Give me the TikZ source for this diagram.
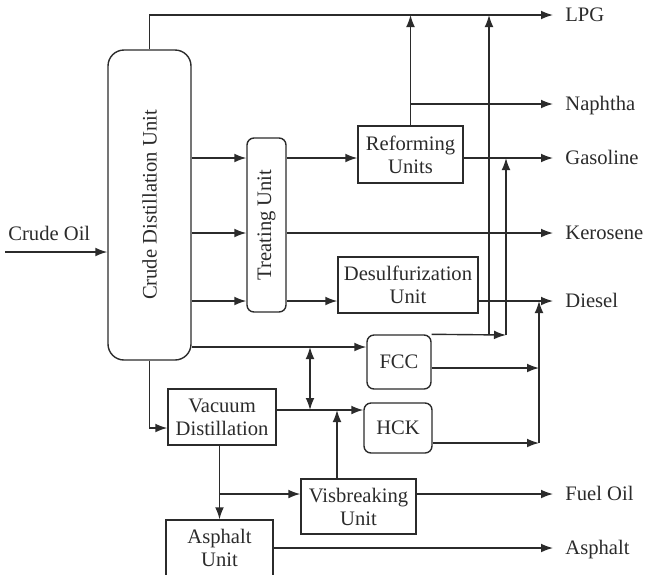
\documentclass[tikz,border=0pt]{standalone}
\usepackage{fontspec}
\setmainfont{Liberation Serif}
\usetikzlibrary{arrows.meta,calc}
\definecolor{ink}{HTML}{2B2B2B}
\begin{document}
\begin{tikzpicture}[x=0.5pt,y=-0.5pt,
  every node/.style={font=\fontsize{10.3}{11.5}\selectfont, text=ink},
  line/.style={draw=ink, line width=0.7pt},
  arr/.style={line, -{Latex[length=6pt,width=4.4pt]}},
  darr/.style={line, {Latex[length=6pt,width=4.4pt]}-{Latex[length=6pt,width=4.4pt]}},
  unitbox/.style={line, rectangle, align=center, inner sep=1pt},
  roundbox/.style={unitbox, rounded corners=3.5pt},
  outlbl/.style={anchor=base west, inner sep=0pt, xshift=6pt, yshift=-3.4pt}
]
\clip (0,0) rectangle (646,574);

% process units
\node[unitbox, rounded corners=8pt, minimum width=41.5pt, minimum height=155pt]
  (cdu) at (149.5,205) {\rotatebox{90}{Crude Distillation Unit}};
\node[unitbox, rounded corners=3.5pt, minimum width=19.5pt, minimum height=87pt]
  (trt) at (266.5,225) {\rotatebox{90}{Treating Unit}};
\node[unitbox, minimum width=52.5pt, minimum height=28.5pt]
  (ref) at (410.5,154.5) {Reforming\\Units};
\node[unitbox, minimum width=70pt, minimum height=28pt]
  (des) at (408,285) {Desulfurization\\Unit};
\node[roundbox, minimum width=32pt, minimum height=27pt]
  (fcc) at (399,362) {FCC};
\node[roundbox, minimum width=34pt, minimum height=25pt]
  (hck) at (398,428) {HCK};
\node[unitbox, minimum width=54pt, minimum height=28pt]
  (vac) at (222,417) {Vacuum\\Distillation};
\node[unitbox, minimum width=57.5pt, minimum height=27.5pt]
  (vis) at (358.5,506.5) {Visbreaking\\Unit};
\node[unitbox, minimum width=53.5pt, minimum height=28pt]
  (asp) at (219.5,548) {Asphalt\\Unit};

% product outlets
\coordinate (oLPG) at (553,15);
\coordinate (oNap) at (553,104);
\coordinate (oGas) at (553,158);
\coordinate (oKer) at (553,233);
\coordinate (oDie) at (553,301);
\coordinate (oFue) at (553,494);
\coordinate (oAsp) at (553,548);
\node[outlbl] (tLPG) at (oLPG) {LPG};
\node[outlbl] (tNap) at (oNap) {Naphtha};
\node[outlbl] (tGas) at (oGas) {Gasoline};
\node[outlbl] (tKer) at (oKer) {Kerosene};
\node[outlbl] (tDie) at (oDie) {Diesel};
\node[outlbl] (tFue) at (oFue) {Fuel Oil};
\node[outlbl] (tAsp) at (oAsp) {Asphalt};

% feed
\coordinate (feed) at (5,252);
\node[anchor=base west, inner sep=0pt] (tCrude) at (8,240) {Crude Oil};
\draw[arr] (feed) -- (cdu.west |- feed);

% stream levels and junctions
\coordinate (yLight) at (0,158);
\coordinate (yFcc) at (0,347);
\coordinate (yHck) at (0,410);
\coordinate (yVac) at (0,428);
\coordinate (yFccOut) at (0,368);
\coordinate (yHckOut) at (0,443);
\coordinate (kLPG) at (489,335);
\coordinate (kGas) at (506,335);
\coordinate (kDie) at (539,0);
\coordinate (xSwap) at (310,0);
\coordinate (xVis) at (337,0);

% crude unit overhead and side draws
\draw[arr] (cdu.north) |- (oLPG);
\draw[arr] (cdu.east |- yLight) -- (trt.west |- yLight);
\draw[arr] (cdu.east |- oKer) -- (trt.west |- oKer);
\draw[arr] (cdu.east |- oDie) -- (trt.west |- oDie);
\draw[arr] (cdu.east |- yFcc) -- (fcc.west |- yFcc);
\draw[arr] (cdu.south) |- (vac.west |- yVac);

% treating and reforming
\draw[arr] (trt.east |- yLight) -- (ref.west |- yLight);
\draw[arr] (trt.east |- oKer) -- (oKer);
\draw[arr] (trt.east |- oDie) -- (des.west |- oDie);
\draw[arr] (ref.north) -- (ref.north |- oLPG);
\draw[arr] (ref.north |- oNap) -- (oNap);
\draw[arr] (ref.east |- oGas) -- (oGas);
\draw[arr] (des.east |- oDie) -- (oDie);

% cracking units
\draw[arr] (fcc.north east) -- (kGas);
\draw[arr] (kGas) -- (kGas |- oGas);
\draw[arr] (kLPG) -- (kLPG |- oLPG);
\draw[arr] (fcc.east |- yFccOut) -- (kDie |- yFccOut);
\draw[arr] (hck.east |- yHckOut) -- (kDie |- yHckOut);
\draw[arr] (kDie |- yHckOut) -- (kDie |- oDie);
\draw[darr] (xSwap |- yFcc) -- (xSwap |- yHck);
\draw[arr] (vac.east |- yHck) -- (hck.west |- yHck);

% vacuum residue routes
\draw[arr] (asp.north |- vac.south) -- (asp.north);
\draw[arr] (asp.north |- oFue) -- (vis.west |- oFue);
\draw[arr] (xVis |- vis.north) -- (xVis |- yHck);
\draw[arr] (vis.east |- oFue) -- (oFue);
\draw[arr] (asp.east |- oAsp) -- (oAsp);
\end{tikzpicture}
\end{document}
